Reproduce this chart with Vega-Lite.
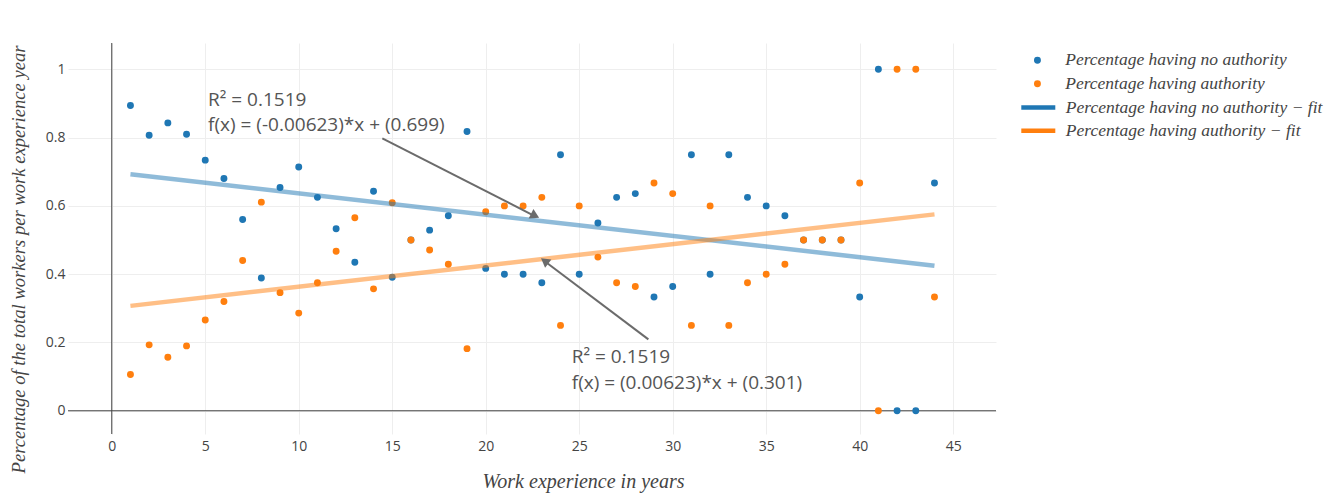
{
  "$schema": "https://vega.github.io/schema/vega-lite/v6.json",
  "width": 928,
  "height": 391,
  "autosize": {"type": "none"},
  "padding": {"left": 68, "top": 43, "right": 333, "bottom": 59},
  "background": "white",
  "config": {
    "view": {"stroke": null},
    "font": "Open Sans",
    "axis": {
      "grid": true,
      "gridColor": "#eeeeee",
      "gridWidth": 1,
      "domain": false,
      "ticks": false,
      "labelFont": "Open Sans",
      "labelFontSize": 14,
      "labelColor": "#444444",
      "titleFont": "Liberation Serif",
      "titleFontStyle": "italic",
      "titleFontWeight": "normal",
      "titleColor": "#444444"
    },
    "legend": {
      "orient": "none",
      "title": null,
      "labelFont": "Liberation Serif",
      "labelFontStyle": "italic",
      "labelFontSize": 17.5,
      "labelColor": "#444444",
      "labelLimit": 0,
      "padding": 0,
      "symbolOpacity": 1
    }
  },
  "datasets": {
    "pts": [
      {"x": 1, "Percentage having no authority": 0.894, "Percentage having authority": 0.106},
      {"x": 2, "Percentage having no authority": 0.807, "Percentage having authority": 0.193},
      {"x": 3, "Percentage having no authority": 0.843, "Percentage having authority": 0.157},
      {"x": 4, "Percentage having no authority": 0.81, "Percentage having authority": 0.19},
      {"x": 5, "Percentage having no authority": 0.734, "Percentage having authority": 0.266},
      {"x": 6, "Percentage having no authority": 0.68, "Percentage having authority": 0.32},
      {"x": 7, "Percentage having no authority": 0.56, "Percentage having authority": 0.44},
      {"x": 8, "Percentage having no authority": 0.389, "Percentage having authority": 0.611},
      {"x": 9, "Percentage having no authority": 0.654, "Percentage having authority": 0.346},
      {"x": 10, "Percentage having no authority": 0.714, "Percentage having authority": 0.286},
      {"x": 11, "Percentage having no authority": 0.625, "Percentage having authority": 0.375},
      {"x": 12, "Percentage having no authority": 0.533, "Percentage having authority": 0.467},
      {"x": 13, "Percentage having no authority": 0.435, "Percentage having authority": 0.565},
      {"x": 14, "Percentage having no authority": 0.643, "Percentage having authority": 0.357},
      {"x": 15, "Percentage having no authority": 0.391, "Percentage having authority": 0.609},
      {"x": 16, "Percentage having no authority": 0.5, "Percentage having authority": 0.5},
      {"x": 17, "Percentage having no authority": 0.529, "Percentage having authority": 0.471},
      {"x": 18, "Percentage having no authority": 0.571, "Percentage having authority": 0.429},
      {"x": 19, "Percentage having no authority": 0.818, "Percentage having authority": 0.182},
      {"x": 20, "Percentage having no authority": 0.417, "Percentage having authority": 0.583},
      {"x": 21, "Percentage having no authority": 0.4, "Percentage having authority": 0.6},
      {"x": 22, "Percentage having no authority": 0.4, "Percentage having authority": 0.6},
      {"x": 23, "Percentage having no authority": 0.375, "Percentage having authority": 0.625},
      {"x": 24, "Percentage having no authority": 0.75, "Percentage having authority": 0.25},
      {"x": 25, "Percentage having no authority": 0.4, "Percentage having authority": 0.6},
      {"x": 26, "Percentage having no authority": 0.55, "Percentage having authority": 0.45},
      {"x": 27, "Percentage having no authority": 0.625, "Percentage having authority": 0.375},
      {"x": 28, "Percentage having no authority": 0.636, "Percentage having authority": 0.364},
      {"x": 29, "Percentage having no authority": 0.333, "Percentage having authority": 0.667},
      {"x": 30, "Percentage having no authority": 0.364, "Percentage having authority": 0.636},
      {"x": 31, "Percentage having no authority": 0.75, "Percentage having authority": 0.25},
      {"x": 32, "Percentage having no authority": 0.4, "Percentage having authority": 0.6},
      {"x": 33, "Percentage having no authority": 0.75, "Percentage having authority": 0.25},
      {"x": 34, "Percentage having no authority": 0.625, "Percentage having authority": 0.375},
      {"x": 35, "Percentage having no authority": 0.6, "Percentage having authority": 0.4},
      {"x": 36, "Percentage having no authority": 0.571, "Percentage having authority": 0.429},
      {"x": 37, "Percentage having no authority": 0.5, "Percentage having authority": 0.5},
      {"x": 38, "Percentage having no authority": 0.5, "Percentage having authority": 0.5},
      {"x": 39, "Percentage having no authority": 0.5, "Percentage having authority": 0.5},
      {"x": 40, "Percentage having no authority": 0.333, "Percentage having authority": 0.667},
      {"x": 41, "Percentage having no authority": 1, "Percentage having authority": 0},
      {"x": 42, "Percentage having no authority": 0, "Percentage having authority": 1},
      {"x": 43, "Percentage having no authority": 0, "Percentage having authority": 1},
      {"x": 44, "Percentage having no authority": 0.667, "Percentage having authority": 0.333}
    ],
    "fits": [
      {"fit": "Percentage having no authority − fit", "x": 1, "y": 0.69277},
      {"fit": "Percentage having no authority − fit", "x": 44, "y": 0.42488},
      {"fit": "Percentage having authority − fit", "x": 1, "y": 0.30723},
      {"fit": "Percentage having authority − fit", "x": 44, "y": 0.57512}
    ],
    "arrows": [
      {"arrow": "a1", "x": 14.47, "y": 0.798},
      {"arrow": "a1", "x": 22.7, "y": 0.568},
      {"arrow": "a2", "x": 28.7, "y": 0.209},
      {"arrow": "a2", "x": 23.1, "y": 0.44}
    ],
    "heads": [
      {"arrow": "a1", "x": 22.64, "y": 0.571},
      {"arrow": "a2", "x": 23.15, "y": 0.439}
    ],
    "notes": [
      {"x": 5.15, "y": 0.911, "t": "R² = 0.1519"},
      {"x": 5.15, "y": 0.837, "t": "f(x) = (-0.00623)*x + (0.699)"},
      {"x": 24.6, "y": 0.158, "t": "R² = 0.1519"},
      {"x": 24.6, "y": 0.082, "t": "f(x) = (0.00623)*x + (0.301)"}
    ]
  },
  "layer": [
    {
      "data": {"values": [{}]},
      "mark": {"type": "rule", "color": "#444444", "strokeWidth": 1},
      "encoding": {"x": {"datum": 0, "type": "quantitative"}}
    },
    {
      "data": {"values": [{}]},
      "mark": {"type": "rule", "color": "#444444", "strokeWidth": 1},
      "encoding": {"y": {"datum": 0, "type": "quantitative"}}
    },
    {
      "data": {"name": "pts"},
      "transform": [{"fold": ["Percentage having no authority", "Percentage having authority"], "as": ["series", "y"]}],
      "mark": {"type": "point", "filled": true, "opacity": 1, "size": 48, "shape": "circle"},
      "encoding": {
        "x": {
          "field": "x", "type": "quantitative",
          "scale": {"domain": [-2.34, 47.29], "nice": false, "zero": false},
          "axis": {
            "values": [0, 5, 10, 15, 20, 25, 30, 35, 40, 45],
            "labelPadding": 5,
            "title": "Work experience in years",
            "titleFontSize": 20,
            "titleX": 515, "titleY": 47.5, "titleBaseline": "middle", "titleAnchor": "start", "titleAlign": "center"
          }
        },
        "y": {
          "field": "y", "type": "quantitative",
          "scale": {"domain": [-0.068, 1.077], "nice": false, "zero": false},
          "axis": {
            "values": [0, 0.2, 0.4, 0.6, 0.8, 1],
            "format": "~g",
            "labelPadding": 3,
            "title": "Percentage of the total workers per work experience year",
            "titleFontSize": 18.6,
            "titleX": -50, "titleY": 216, "titleBaseline": "middle", "titleAnchor": "start", "titleAlign": "center", "titleAngle": -90
          }
        },
        "fill": {
          "field": "series", "type": "nominal",
          "scale": {"domain": ["Percentage having no authority", "Percentage having authority"], "range": ["#1f77b4", "#ff7f0e"]},
          "legend": {"legendX": 960.7, "legendY": 8.5, "symbolType": "circle", "symbolSize": 48, "symbolStrokeWidth": 0, "labelOffset": 19, "rowPadding": 4.5}
        }
      }
    },
    {
      "data": {"name": "fits"},
      "mark": {"type": "line", "strokeWidth": 4.5, "opacity": 0.5},
      "encoding": {
        "x": {"field": "x", "type": "quantitative"},
        "y": {"field": "y", "type": "quantitative"},
        "stroke": {
          "field": "fit", "type": "nominal",
          "scale": {"domain": ["Percentage having no authority − fit", "Percentage having authority − fit"], "range": ["#1f77b4", "#ff7f0e"]},
          "legend": {
            "legendX": 960.8, "legendY": 55, "symbolType": "M-2.5,0H2.5", "symbolSize": 185, "symbolStrokeWidth": 4.5, "symbolOpacity": 1, "labelOffset": 18, "rowPadding": 4.3
          }
        }
      }
    },
    {
      "data": {"name": "arrows"},
      "mark": {"type": "line", "color": "#6b6b6b", "strokeWidth": 2},
      "encoding": {
        "x": {"field": "x", "type": "quantitative"},
        "y": {"field": "y", "type": "quantitative"},
        "detail": {"field": "arrow", "type": "nominal"}
      }
    },
    {
      "data": {"name": "heads"},
      "transform": [{"filter": "datum.arrow === 'a1'"}],
      "mark": {"type": "point", "shape": "triangle-right", "filled": true, "color": "#6b6b6b", "opacity": 1, "size": 110, "angle": 27},
      "encoding": {
        "x": {"field": "x", "type": "quantitative"},
        "y": {"field": "y", "type": "quantitative"}
      }
    },
    {
      "data": {"name": "heads"},
      "transform": [{"filter": "datum.arrow === 'a2'"}],
      "mark": {"type": "point", "shape": "triangle-right", "filled": true, "color": "#6b6b6b", "opacity": 1, "size": 110, "angle": 217},
      "encoding": {
        "x": {"field": "x", "type": "quantitative"},
        "y": {"field": "y", "type": "quantitative"}
      }
    },
    {
      "data": {"name": "notes"},
      "mark": {"type": "text", "align": "left", "baseline": "middle", "font": "Open Sans", "fontSize": 19, "color": "#555555"},
      "encoding": {
        "x": {"field": "x", "type": "quantitative"},
        "y": {"field": "y", "type": "quantitative"},
        "text": {"field": "t", "type": "nominal"}
      }
    }
  ]
}
